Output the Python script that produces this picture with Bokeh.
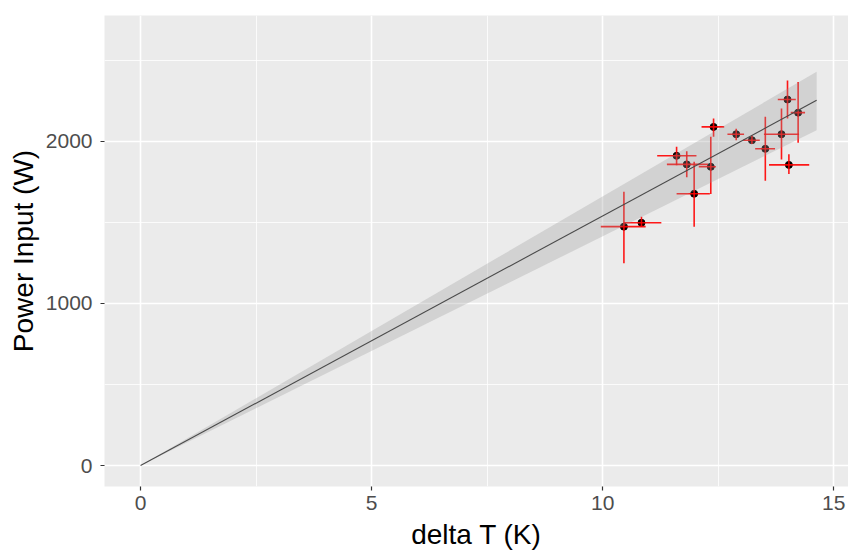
from bokeh.plotting import figure
from bokeh.models import FixedTicker, Range1d
from bokeh.embed import file_html
from bokeh.resources import INLINE

# Data
dT = [10.46, 10.84, 11.60, 11.82, 11.98, 12.34, 12.40, 12.89, 13.23, 13.52, 13.87, 14.03, 14.00, 14.23]
P = [1473, 1497, 1910, 1857, 1676, 1842, 2088, 2043, 2006, 1953, 2043, 1854, 2257, 2176]
P_low = [1248, 1473, 1852, 1777, 1473, 1674, 2027, 2006, 1982, 1756, 1887, 1797, 2140, 1990]
P_high = [1688, 1534, 1965, 1938, 1873, 2027, 2140, 2077, 2037, 2150, 2201, 1920, 2375, 2365]
dT_low = [9.96, 10.46, 11.18, 11.39, 11.60, 12.08, 12.14, 12.70, 13.04, 13.30, 13.49, 13.60, 13.79, 14.07]
dT_high = [10.93, 11.27, 12.03, 12.28, 12.32, 12.45, 12.63, 13.06, 13.40, 13.73, 14.25, 14.47, 14.18, 14.38]

# fitted line (through origin) and its confidence band
fit_x = [0, 14.63]
fit_y = [0, 2252]
fit_lo = [0, 2068]
fit_hi = [0, 2428]

x_ticks = [0, 5, 10, 15]
x_minor = [2.5, 7.5, 12.5]
y_ticks = [0, 1000, 2000]
y_minor = [500, 1500, 2500]

FONT = "Liberation Sans"

p = figure(width=848, height=552, output_backend="svg", toolbar_location=None,
           x_range=Range1d(-0.78, 15.32), y_range=Range1d(-129, 2775),
           min_border_left=104, min_border_right=0, min_border_top=15, min_border_bottom=65)

p.background_fill_color = "#EBEBEB"
p.border_fill_color = "white"
p.outline_line_color = None

p.xaxis.ticker = FixedTicker(ticks=x_ticks, minor_ticks=x_minor)
p.yaxis.ticker = FixedTicker(ticks=y_ticks, minor_ticks=y_minor)

for g in (p.xgrid[0], p.ygrid[0]):
    g.grid_line_color = "white"
    g.grid_line_width = 1.6
    g.minor_grid_line_color = "white"
    g.minor_grid_line_width = 0.8

for ax in (p.xaxis[0], p.yaxis[0]):
    ax.axis_line_color = None
    ax.major_tick_line_color = "#333333"
    ax.major_tick_line_width = 1.2
    ax.major_tick_out = 4
    ax.major_tick_in = 0
    ax.minor_tick_line_color = None
    ax.major_label_text_font = FONT
    ax.major_label_text_font_size = "21px"
    ax.major_label_text_color = "#4D4D4D"
    ax.axis_label_text_font = FONT
    ax.axis_label_text_font_size = "28px"
    ax.axis_label_text_font_style = "normal"
    ax.axis_label_text_color = "black"

p.xaxis.axis_label = "delta T (K)"
p.yaxis.axis_label = "Power Input (W)"
p.xaxis.major_label_standoff = 5
p.xaxis.axis_label_standoff = 6
p.xaxis.axis_label_text_line_height = 0.8
p.yaxis.major_label_standoff = 8
p.yaxis.axis_label_standoff = 4

# points
p.scatter(dT, P, size=7, color="black")

# error bars
p.segment(x0=dT, y0=P_low, x1=dT, y1=P_high, line_color="red", line_width=1.6, line_alpha=0.9)
p.segment(x0=dT_low, y0=P, x1=dT_high, y1=P, line_color="red", line_width=1.6, line_alpha=0.9)

# confidence band and fit line
p.varea(x=fit_x, y1=fit_lo, y2=fit_hi, fill_color="#999999", fill_alpha=0.3)
p.line(fit_x, fit_y, line_color="#4a4a4a", line_width=1.1)

open("out.html", "w").write(file_html(p, INLINE))
